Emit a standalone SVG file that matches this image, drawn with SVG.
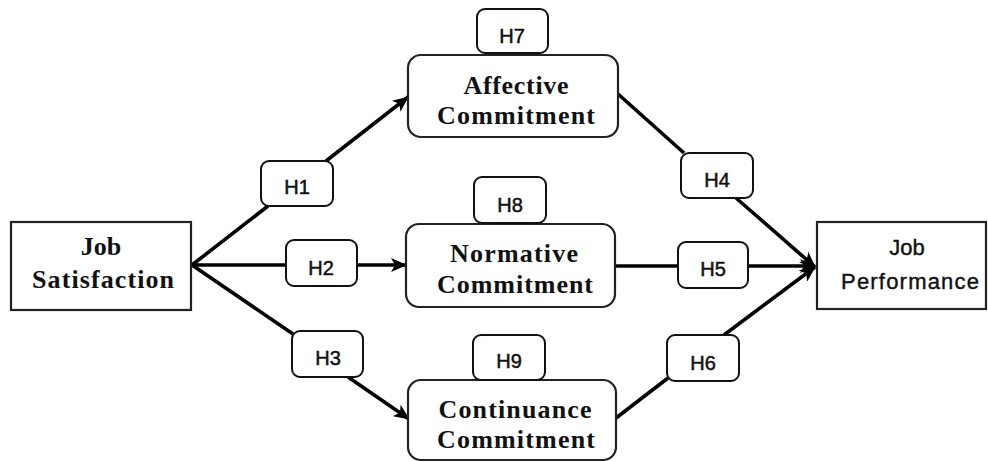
<svg xmlns="http://www.w3.org/2000/svg" width="988" height="462" viewBox="0 0 988 462">
<style>
.box{fill:#fff;stroke:#222;stroke-width:2.2}
.hbox{fill:#fff;stroke:#111;stroke-width:2}
.ser{font-family:"Liberation Serif","Times New Roman",serif;font-weight:bold;font-size:26px;fill:#111;text-anchor:middle}
.san{font-family:"Liberation Sans",Arial,sans-serif;font-size:22px;fill:#111;stroke:#111;stroke-width:0.4;text-anchor:middle}
.h{font-family:"Liberation Sans",Arial,sans-serif;font-size:20px;fill:#111;stroke:#111;stroke-width:0.5;text-anchor:middle}
.ln{stroke:#000;stroke-width:3.6;fill:none}
.ar{stroke:#000;stroke-width:3.6;fill:none;marker-end:url(#ah)}
</style>
<defs>
<marker id="ah" markerUnits="userSpaceOnUse" markerWidth="16" markerHeight="14" refX="15" refY="7" orient="auto">
<path d="M0,0 L16,7 L0,14 L4,7 Z" fill="#000"/>
</marker>
</defs>
<rect width="988" height="462" fill="#fff"/>
<g id="connectors">
<line class="ln" x1="192" y1="265" x2="268" y2="206"/>
<line class="ar" x1="326" y1="161" x2="408" y2="97"/>
<line class="ln" x1="192" y1="265" x2="286" y2="265"/>
<line class="ar" x1="357" y1="265" x2="406" y2="265"/>
<line class="ln" x1="192" y1="265" x2="293" y2="334"/>
<line class="ar" x1="348" y1="377" x2="409" y2="419"/>
<line class="ln" x1="618" y1="94" x2="684" y2="153"/>
<line class="ar" x1="736" y1="198" x2="815" y2="267"/>
<line class="ln" x1="615" y1="266" x2="678" y2="266"/>
<line class="ar" x1="748" y1="266" x2="815" y2="266"/>
<line class="ln" x1="616" y1="418" x2="668" y2="378"/>
<line class="ar" x1="724" y1="335" x2="815" y2="267"/>
</g>
<g id="job-satisfaction">
<rect class="box" x="11" y="222" width="180" height="88"/>
<text class="ser" x="101" y="255">Job</text>
<text class="ser" x="103" y="288" textLength="142">Satisfaction</text>
</g>
<g id="affective">
<rect class="box" x="408" y="55" width="210" height="82" rx="13"/>
<text class="ser" x="516" y="94" textLength="105">Affective</text>
<text class="ser" x="516" y="124" textLength="158">Commitment</text>
</g>
<g id="normative">
<rect class="box" x="406" y="224" width="209" height="83" rx="13"/>
<text class="ser" x="514" y="262" textLength="128">Normative</text>
<text class="ser" x="515" y="293" textLength="156">Commitment</text>
</g>
<g id="continuance">
<rect class="box" x="408" y="380" width="208" height="80" rx="13"/>
<text class="ser" x="515" y="418" textLength="153">Continuance</text>
<text class="ser" x="516" y="448" textLength="158">Commitment</text>
</g>
<g id="job-performance">
<rect class="box" x="817" y="222" width="169" height="87"/>
<text class="san" x="907" y="255">Job</text>
<text class="san" x="910" y="289" textLength="138">Performance</text>
</g>
<g id="H1"><rect class="hbox" x="261" y="161" width="72" height="45" rx="8"/><text class="h" x="297" y="194">H1</text></g>
<g id="H2"><rect class="hbox" x="286" y="240" width="71" height="46" rx="8"/><text class="h" x="321" y="275">H2</text></g>
<g id="H3"><rect class="hbox" x="292" y="331" width="71" height="46" rx="8"/><text class="h" x="328" y="365">H3</text></g>
<g id="H4"><rect class="hbox" x="681" y="153" width="72" height="45" rx="8"/><text class="h" x="717" y="187">H4</text></g>
<g id="H5"><rect class="hbox" x="678" y="242" width="70" height="46" rx="8"/><text class="h" x="713" y="276">H5</text></g>
<g id="H6"><rect class="hbox" x="667" y="335" width="72" height="46" rx="8"/><text class="h" x="703" y="370">H6</text></g>
<g id="H7"><rect class="hbox" x="477" y="9" width="71" height="44" rx="8"/><text class="h" x="512" y="43">H7</text></g>
<g id="H8"><rect class="hbox" x="474" y="177" width="72" height="46" rx="8"/><text class="h" x="510" y="212">H8</text></g>
<g id="H9"><rect class="hbox" x="473" y="335" width="72" height="45" rx="8"/><text class="h" x="509" y="368">H9</text></g>
</svg>
